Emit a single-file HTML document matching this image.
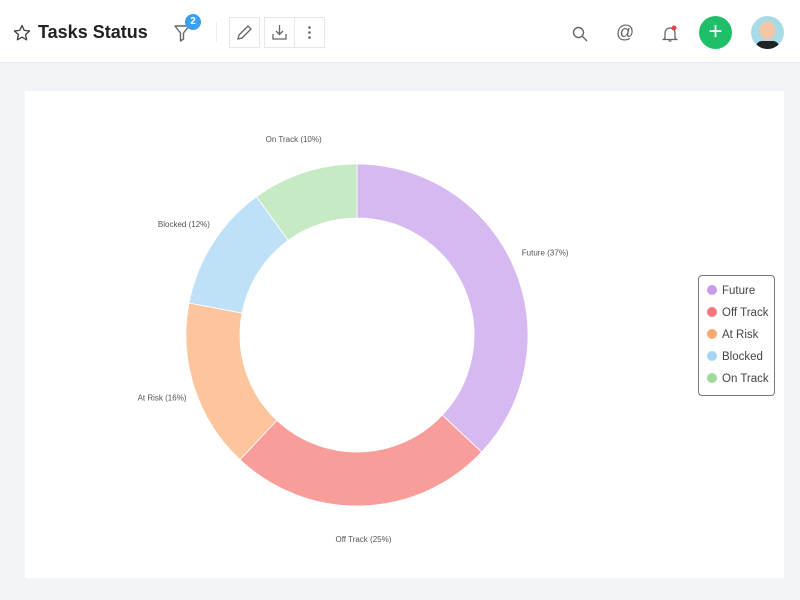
<!DOCTYPE html>
<html><head><meta charset="utf-8"><style>
body{margin:0;width:800px;height:600px;background:#f3f4f8;font-family:"Liberation Sans",sans-serif;overflow:hidden;position:relative}
.hdr{position:absolute;left:0;top:0;width:800px;height:62px;background:#fff;border-bottom:1px solid #e8e9ee}
.abs{position:absolute}
.btn{position:absolute;top:17px;width:31px;height:31px;border:1px solid #e6e7eb;box-sizing:border-box;background:#fff}
.card{position:absolute;left:25px;top:91px;width:759px;height:487px;background:#fff}
</style></head><body>
<div class="hdr">
  <svg class="abs" style="left:13px;top:24px" width="18" height="18" viewBox="0 0 24 24"><path d="M12 2l3 6.5 7 .8-5.2 4.8 1.4 7L12 17.6 5.8 21.1l1.4-7L2 9.3l7-.8z" fill="none" stroke="#444" stroke-width="1.8" stroke-linejoin="round"/></svg>
  <div class="abs" style="left:38px;top:22px;font-size:18px;font-weight:bold;color:#222">Tasks Status</div>
  <svg class="abs" style="left:174px;top:24px" width="16" height="18" viewBox="0 0 16 18"><path d="M1 2h14l-5.5 7v6l-3 2V9z" fill="none" stroke="#666" stroke-width="1.4" stroke-linejoin="round"/></svg>
  <div class="abs" style="left:185px;top:14px;width:16px;height:16px;border-radius:50%;background:#3a9ff0;color:#fff;font-size:10px;font-weight:bold;text-align:center;line-height:16px">2</div>
  <div class="abs" style="left:216px;top:22px;width:1px;height:20px;background:#eee"></div>
  <div class="btn" style="left:229px"><svg width="29" height="29" viewBox="0 0 29 29"><path d="M8 21l1-4 9-9 3 3-9 9z" fill="none" stroke="#666" stroke-width="1.3"/></svg></div>
  <div class="btn" style="left:264px"><svg width="29" height="29" viewBox="0 0 29 29"><path d="M14.5 7v9M11 13l3.5 3.5L18 13M8 16v5h13v-5" fill="none" stroke="#666" stroke-width="1.3"/></svg></div>
  <div class="btn" style="left:294px"><svg width="29" height="29" viewBox="0 0 29 29"><circle cx="14.5" cy="9.5" r="1.3" fill="#666"/><circle cx="14.5" cy="14.5" r="1.3" fill="#666"/><circle cx="14.5" cy="19.5" r="1.3" fill="#666"/></svg></div>
  <svg class="abs" style="left:572px;top:26px" width="16" height="16" viewBox="0 0 16 16"><circle cx="6.5" cy="6.5" r="5" fill="none" stroke="#666" stroke-width="1.4"/><path d="M10 10l5 5" stroke="#666" stroke-width="1.4"/></svg>
  <div class="abs" style="left:616px;top:22px;font-size:18px;color:#666">@</div>
  <svg class="abs" style="left:662px;top:25px" width="16" height="18" viewBox="0 0 16 18"><path d="M3 13V8a5 5 0 0110 0v5l1.5 1.5h-13zM6.5 16h3" fill="none" stroke="#666" stroke-width="1.3"/><circle cx="12" cy="3" r="2.5" fill="#e94545"/></svg>
  <div class="abs" style="left:699px;top:16px;width:33px;height:33px;border-radius:50%;background:#1fbf6a;color:#fff;font-size:24px;text-align:center;line-height:32px">+</div>
  <div class="abs" style="left:751px;top:16px;width:33px;height:33px;border-radius:50%;background:#a8dbe6;overflow:hidden">
    <div class="abs" style="left:9px;top:5px;width:15px;height:19px;border-radius:50%;background:#f3c7a6"></div>
    <div class="abs" style="left:5px;top:25px;width:23px;height:12px;border-radius:6px;background:#222"></div>
  </div>
</div>
<div class="card"></div>
<svg class="abs" style="left:0;top:0" width="800" height="600" id="chart"></svg>
<div class="abs" style="left:698px;top:275px;width:77px;height:121px;border:1px solid #777;border-radius:4px;background:#fff;box-sizing:border-box" id="legend"></div>
<script>
const categories=["Future","Off Track","At Risk","Blocked","On Track"];
const values=[37,25,16,12,10];
const fills=["#d7b9f1","#f99d9b","#fdc59d","#bee1f7","#c5eac4"];
const dots=["#c99be9","#f07777","#f9a870","#a8d5f5","#a0d99c"];
const NS="http://www.w3.org/2000/svg";
const svg=document.getElementById('chart');
const cx=357,cy=335,R=171,r=117,LR=205;
const total=values.reduce((a,b)=>a+b,0);
function pt(a,rad){return [cx+rad*Math.sin(a),cy-rad*Math.cos(a)];}
let acc=0;
values.forEach((v,i)=>{
  const a0=acc/total*2*Math.PI;acc+=v;const a1=acc/total*2*Math.PI;
  const lg=(a1-a0)>Math.PI?1:0;
  const [x0,y0]=pt(a0,R),[x1,y1]=pt(a1,R),[x2,y2]=pt(a1,r),[x3,y3]=pt(a0,r);
  const p=document.createElementNS(NS,'path');
  p.setAttribute('d',`M${x0},${y0}A${R},${R} 0 ${lg} 1 ${x1},${y1}L${x2},${y2}A${r},${r} 0 ${lg} 0 ${x3},${y3}Z`);
  p.setAttribute('fill',fills[i]);p.setAttribute('stroke','#fff');p.setAttribute('stroke-width','0.8');
  
  
  svg.appendChild(p);
  const [lx,ly]=pt((a0+a1)/2,LR);
  const t=document.createElementNS(NS,'text');
  t.setAttribute('x',lx);t.setAttribute('y',ly+2);t.setAttribute('text-anchor','middle');
  t.setAttribute('font-size','8');t.setAttribute('fill','#555');t.setAttribute('font-family','Liberation Sans, sans-serif');
  t.textContent=categories[i]+' ('+v+'%)';
  
  
  svg.appendChild(t);
});
const lg=document.getElementById('legend');
categories.forEach((c,i)=>{
  const d=document.createElement('div');
  d.style.cssText=`position:absolute;left:8px;top:${8+i*22}px;font-size:11.5px;color:#444;white-space:nowrap;line-height:14px`;
  d.innerHTML=`<span style="display:inline-block;width:10px;height:10px;border-radius:50%;background:${dots[i]};margin-right:5px;vertical-align:-1px"></span>${c}`;
  
  
  lg.appendChild(d);
});
</script>
</body></html>
